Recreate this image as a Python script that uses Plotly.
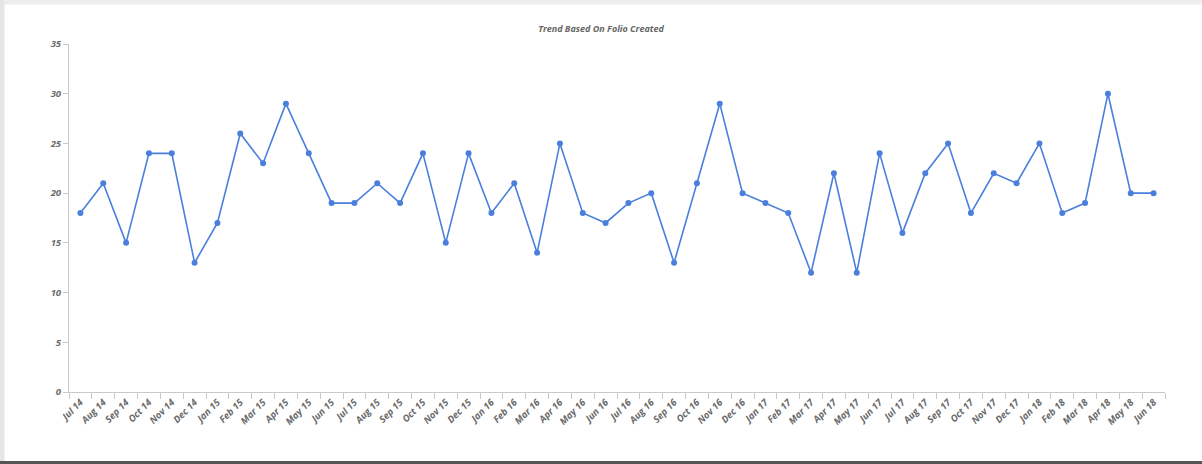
import plotly.graph_objects as go

months = ["Jul 14","Aug 14","Sep 14","Oct 14","Nov 14","Dec 14","Jan 15","Feb 15","Mar 15","Apr 15","May 15","Jun 15",
          "Jul 15","Aug 15","Sep 15","Oct 15","Nov 15","Dec 15","Jan 16","Feb 16","Mar 16","Apr 16","May 16","Jun 16",
          "Jul 16","Aug 16","Sep 16","Oct 16","Nov 16","Dec 16","Jan 17","Feb 17","Mar 17","Apr 17","May 17","Jun 17",
          "Jul 17","Aug 17","Sep 17","Oct 17","Nov 17","Dec 17","Jan 18","Feb 18","Mar 18","Apr 18","May 18","Jun 18"]
folios = [18,21,15,24,24,13,17,26,23,29,24,19,
          19,21,19,24,15,24,18,21,14,25,18,17,
          19,20,13,21,29,20,19,18,12,22,12,24,
          16,22,25,18,22,21,25,18,19,30,20,20]
y_ticks = [0,5,10,15,20,25,30,35]

fig = go.Figure()
fig.add_trace(go.Scatter(x=months, y=folios, mode="lines+markers",
                         line=dict(color="#4a7fdc", width=1.6),
                         marker=dict(color="#4a7fdc", size=6),
                         showlegend=False))

tickfont = dict(family="Open Sans", size=9.5, color="#6a6a6a")
fig.update_layout(
    width=1202, height=464,
    paper_bgcolor="white", plot_bgcolor="white",
    margin=dict(l=69, r=37, t=44, b=72),
    title=dict(text="<b><i>Trend Based On Folio Created</i></b>", x=0.5, xanchor="center",
               y=1-29/464, yanchor="middle",
               font=dict(family="Open Sans", size=9, color="#666666")),
    xaxis=dict(type="category", tickangle=-45, tickfont=tickfont,
               range=[-0.5, len(months)-0.5],
               showline=True, linecolor="#c8c8c8", linewidth=1,
               ticks="outside", ticklen=6, tickcolor="#c8c8c8", tickson="boundaries",
               showgrid=False, zeroline=False,
               tickvals=months, ticktext=["<b><i>%s</i></b>" % m for m in months]),
    yaxis=dict(range=[0,35], tickvals=y_ticks, ticktext=["<b><i>%d</i></b>" % v for v in y_ticks],
               tickfont=tickfont, showline=True, linecolor="#c8c8c8", linewidth=1,
               ticks="outside", ticklen=5, tickcolor="#c8c8c8",
               showgrid=False, zeroline=False),
    shapes=[
        dict(type="line", xref="paper", yref="paper", x0=-69/1096, x1=1+37/1096, y0=1+44/348-2/348, y1=1+44/348-2/348,
             line=dict(color="#eeeeee", width=5)),
        dict(type="line", xref="paper", yref="paper", x0=-69/1096+2/1096, x1=-69/1096+2/1096, y0=-72/348, y1=1+44/348,
             line=dict(color="#e6e6e6", width=5)),
        dict(type="line", xref="paper", yref="paper", x0=-69/1096, x1=1+37/1096, y0=-72/348+1.5/348, y1=-72/348+1.5/348,
             line=dict(color="#555555", width=3)),
    ],
)
fig.write_html("out.html")
